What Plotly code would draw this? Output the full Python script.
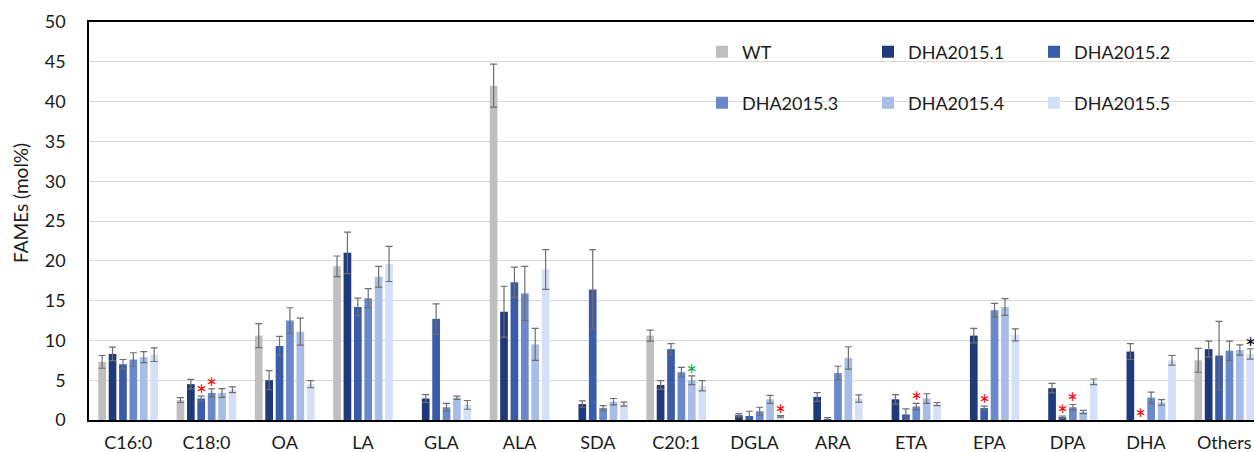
import plotly.graph_objects as go

categories = ["C16:0", "C18:0", "OA", "LA", "GLA", "ALA", "SDA", "C20:1",
              "DGLA", "ARA", "ETA", "EPA", "DPA", "DHA", "Others"]

series_names = ["WT", "DHA2015.1", "DHA2015.2", "DHA2015.3", "DHA2015.4", "DHA2015.5"]

wt = [7.3, 2.5, 10.6, 19.3, None, 42.0, None, 10.6, None, None, None, None, None, None, 7.5]
wt_err = [0.8, 0.3, 1.5, 1.3, None, 2.7, None, 0.7, None, None, None, None, None, None, 1.5]

d1 = [8.3, 4.5, 5.0, 21.0, 2.7, 13.6, 2.0, 4.4, 0.6, 2.9, 2.6, 10.6, 4.0, 8.6, 8.9]
d1_err = [0.85, 0.6, 1.2, 2.6, 0.5, 3.2, 0.4, 0.55, 0.2, 0.55, 0.6, 0.9, 0.6, 1.0, 1.0]

d2 = [7.0, 2.7, 9.3, 14.2, 12.7, 17.3, 16.4, 8.9, 0.5, 0.1, 0.7, 1.5, 0.4, None, 8.1]
d2_err = [0.6, 0.3, 1.2, 1.1, 1.9, 1.9, 5.0, 0.7, 0.6, 0.2, 0.7, 0.25, 0.1, None, 4.3]

d3 = [7.6, 3.4, 12.5, 15.3, 1.6, 15.9, 1.5, 6.0, 1.1, 5.9, 1.7, 13.8, 1.6, 2.8, 8.7]
d3_err = [0.85, 0.5, 1.6, 1.2, 0.5, 3.4, 0.3, 0.6, 0.5, 0.85, 0.4, 0.85, 0.35, 0.7, 1.2]

d4 = [7.9, 3.4, 11.1, 18.0, 2.8, 9.5, 2.3, 5.0, 2.6, 7.8, 2.7, 14.2, 1.0, 2.2, 8.8]
d4_err = [0.7, 0.55, 1.7, 1.3, 0.2, 2.0, 0.4, 0.55, 0.5, 1.4, 0.6, 1.05, 0.2, 0.35, 0.65]

d5 = [8.2, 3.8, 4.5, 19.6, 1.9, 18.9, 2.0, 4.3, 0.45, 2.7, 2.0, 10.7, 4.8, 7.5, 8.3]
d5_err = [0.85, 0.35, 0.45, 2.2, 0.55, 2.5, 0.25, 0.65, 0.1, 0.45, 0.2, 0.75, 0.35, 0.6, 0.65]

# significance markers: category, series index, colour
star_cats = ["C18:0", "C18:0", "C20:1", "DGLA", "ETA", "EPA", "DPA", "DPA", "DHA", "Others"]
star_series = [2, 3, 4, 5, 3, 2, 2, 3, 2, 5]
star_colors = ["#FF0000", "#FF0000", "#00B050", "#FF0000", "#FF0000", "#FF0000",
               "#FF0000", "#FF0000", "#FF0000", "#000000"]

colors = ["#BFBFBF", "#1F3A7A", "#3A5BA8", "#6A88CC", "#A7BDE8", "#D5DFF7"]
values = [wt, d1, d2, d3, d4, d5]
errors = [wt_err, d1_err, d2_err, d3_err, d4_err, d5_err]

FONT = "Lato"
TXT = "#1a1a1a"
W, H = 1254, 452
ML, MR, MT, MB = 89, 0, 22, 32
BARGAP = 0.203
BARGROUPGAP = 0.26
X_RANGE = [-0.5, 14.38]

fig = go.Figure()
for i, (name, v, e, c) in enumerate(zip(series_names, values, errors, colors)):
    fig.add_trace(go.Bar(
        x=categories, y=v, name=name, marker=dict(color=c, line=dict(width=0)),
        error_y=dict(type="data", array=e, visible=True, color="#6E6E6E",
                     thickness=1.2, width=3.5),
        legend="legend" if i < 3 else "legend2",
    ))

# asterisk annotations placed above the error bars
plot_w = W - ML - MR
plot_h = H - MT - MB
cat_px = plot_w / (X_RANGE[1] - X_RANGE[0])
slot_px = cat_px * (1 - BARGAP) / 6
for cat, s, col in zip(star_cats, star_series, star_colors):
    idx = categories.index(cat)
    v = values[s][idx] or 0
    e = errors[s][idx] or 0
    fig.add_annotation(x=cat, y=v + e, text="*", showarrow=False,
                       xshift=(s - 2.5) * slot_px, yanchor="middle", yshift=1,
                       font=dict(family=FONT, size=26, color=col))

# y-axis title
fig.add_annotation(text="FAMEs (mol%)", textangle=-90, showarrow=False,
                   xref="paper", yref="paper", x=(20 - ML) / plot_w,
                   y=(420 - 203) / plot_h, xanchor="center", yanchor="middle",
                   font=dict(family=FONT, size=19, color=TXT))

leg_common = dict(orientation="h", xanchor="left", yanchor="middle",
                  bgcolor="rgba(0,0,0,0)", entrywidth=121, entrywidthmode="pixels",
                  font=dict(family=FONT, size=18, color=TXT), traceorder="normal")

fig.update_layout(
    width=W, height=H,
    margin=dict(l=ML, r=MR, t=MT, b=MB, pad=0),
    paper_bgcolor="white", plot_bgcolor="white",
    barmode="group", bargap=BARGAP, bargroupgap=BARGROUPGAP,
    font=dict(family=FONT, color=TXT),
    legend=dict(x=(702 - ML) / plot_w, y=(420 - 52) / plot_h, **leg_common),
    legend2=dict(x=(702 - ML) / plot_w, y=(420 - 103) / plot_h, **leg_common),
    xaxis=dict(range=X_RANGE, showline=True, linecolor="black", linewidth=1.5,
               mirror=True, ticks="", tickfont=dict(family=FONT, size=18, color=TXT),
               ticklabelstandoff=6, showgrid=False, automargin=False),
    yaxis=dict(range=[0, 50], dtick=5, showline=True, linecolor="black", linewidth=1.5,
               gridcolor="#D9D9D9", gridwidth=1, zeroline=False, ticks="",
               tickfont=dict(family=FONT, size=18, color=TXT),
               ticklabelstandoff=18, automargin=False),
)

fig.write_html("out.html")
